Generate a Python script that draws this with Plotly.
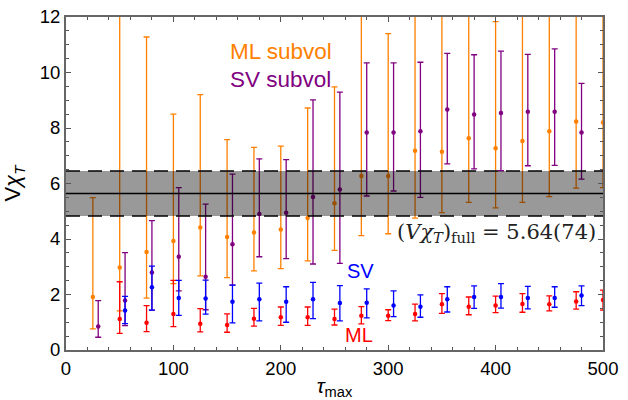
import plotly.graph_objects as go

# ---- data ----
ml_x = [50, 75, 100, 125, 150, 175, 200, 225, 250, 275, 300, 325, 350, 375, 400, 425, 450, 475, 500]
ml_y = [1.12, 0.98, 1.30, 0.95, 0.90, 1.13, 1.18, 1.18, 1.12, 1.23, 1.23, 1.30, 1.65, 1.56, 1.60, 1.66, 1.65, 1.75, 1.80]
ml_lo = [0.60, 0.66, 0.84, 0.65, 0.64, 0.86, 0.89, 0.89, 0.90, 0.94, 1.06, 1.05, 1.32, 1.27, 1.35, 1.36, 1.41, 1.47, 1.44]
ml_hi = [2.46, 1.60, 2.51, 1.49, 1.30, 1.50, 1.55, 1.55, 1.47, 1.56, 1.45, 1.65, 2.03, 1.91, 1.94, 2.03, 1.95, 2.10, 2.16]

sv_x = [55, 80, 105, 130, 155, 180, 205, 230, 255, 280, 305, 330, 355, 380, 405, 430, 455, 480]
sv_y = [1.42, 2.26, 1.87, 1.86, 1.74, 1.83, 1.74, 1.83, 1.69, 1.70, 1.60, 1.56, 1.83, 1.91, 1.91, 1.87, 1.87, 1.96]
sv_lo = [0.95, 1.44, 1.25, 1.29, 0.98, 1.05, 1.00, 1.13, 1.05, 1.16, 1.20, 1.18, 1.37, 1.50, 1.51, 1.48, 1.54, 1.60]
sv_hi = [1.93, 3.02, 2.51, 2.52, 2.34, 2.41, 2.28, 2.44, 2.32, 2.20, 2.13, 1.99, 2.28, 2.31, 2.39, 2.29, 2.28, 2.31]

mls_x = [25, 50, 75, 100, 125, 150, 175, 200, 225, 250, 275, 300, 325, 350, 375, 400, 425, 450, 475, 500]
mls_y = [1.91, 2.97, 3.53, 3.93, 4.41, 4.07, 4.23, 4.34, 4.76, 5.29, 6.27, 6.27, 7.18, 7.14, 7.63, 7.27, 7.53, 7.88, 8.23, 8.20]
mls_lo = [0.76, 1.41, 1.87, 2.39, 2.67, 2.61, 2.85, 2.93, 3.21, 3.59, 4.12, 4.19, 4.75, 4.95, 5.32, 5.12, 5.32, 5.53, 5.83, 5.85]
mls_hi = [5.49, 14.0, 11.28, 8.50, 9.20, 7.58, 7.30, 7.35, 8.72, 9.48, 14.0, 11.40, 14.0, 14.0, 14.0, 11.83, 14.0, 14.0, 14.0, 14.0]

svs_x = [30, 55, 80, 105, 130, 155, 180, 205, 230, 255, 280, 305, 330, 355, 380, 405, 430, 455, 480]
svs_y = [0.85, 1.78, 2.79, 3.36, 2.64, 3.81, 4.90, 4.95, 5.51, 5.78, 7.84, 7.84, 7.88, 8.67, 8.49, 8.54, 8.59, 8.59, 7.84]
svs_lo = [0.46, 0.88, 1.44, 2.13, 1.45, 2.34, 3.36, 3.29, 3.10, 3.12, 5.55, 5.73, 5.50, 6.71, 6.53, 6.46, 6.64, 6.65, 6.16]
svs_hi = [1.78, 3.51, 4.66, 5.85, 5.26, 6.34, 6.89, 6.86, 9.01, 9.29, 10.35, 10.35, 10.37, 10.69, 10.64, 10.77, 10.65, 10.85, 9.61]

full_val = 5.64
band_lo = 4.83
band_hi = 6.45
band_x = [0, 500]

x_ticks = [0, 100, 200, 300, 400, 500]
y_ticks = [0, 2, 4, 6, 8, 10, 12]

ORANGE = "#FF8000"
PURPLE = "#800080"
BLUE = "#0000FF"
RED = "#FF0000"

fig = go.Figure()


def add_series(x, y, lo, hi, color):
    fig.add_trace(go.Scatter(
        x=x, y=y, mode="markers",
        marker=dict(color=color, size=4.5),
        error_y=dict(type="data", symmetric=False,
                     array=[h - v for h, v in zip(hi, y)],
                     arrayminus=[v - l for v, l in zip(y, lo)],
                     color=color, thickness=1.3, width=3),
        showlegend=False, hoverinfo="skip"))


add_series(mls_x, mls_y, mls_lo, mls_hi, ORANGE)
add_series(svs_x, svs_y, svs_lo, svs_hi, PURPLE)
add_series(ml_x, ml_y, ml_lo, ml_hi, RED)
add_series(sv_x, sv_y, sv_lo, sv_hi, BLUE)

# translucent band on top of the points
fig.add_trace(go.Scatter(x=band_x, y=[band_lo, band_lo], mode="lines",
                         line=dict(color="black", width=1.5, dash="14px,8px"),
                         showlegend=False, hoverinfo="skip"))
fig.add_trace(go.Scatter(x=band_x, y=[band_hi, band_hi], mode="lines",
                         line=dict(color="black", width=1.5, dash="14px,8px"),
                         fill="tonexty", fillcolor="rgba(0,0,0,0.4)",
                         showlegend=False, hoverinfo="skip"))
fig.add_trace(go.Scatter(x=band_x, y=[full_val, full_val], mode="lines",
                         line=dict(color="black", width=1.5),
                         showlegend=False, hoverinfo="skip"))

sans = "Liberation Sans, Arial, Helvetica, sans-serif"
serif = "DejaVu Serif, Liberation Serif, serif"

fig.add_annotation(x=151, y=10.74, xref="x", yref="y", text="ML subvol", showarrow=False,
                   xanchor="left", font=dict(family=sans, size=22.5, color=ORANGE))
fig.add_annotation(x=151, y=9.73, xref="x", yref="y", text="SV subvol", showarrow=False,
                   xanchor="left", font=dict(family=sans, size=22.5, color=PURPLE))
fig.add_annotation(x=274, y=2.86, xref="x", yref="y", text="SV", showarrow=False,
                   font=dict(family=sans, size=20, color=BLUE))
fig.add_annotation(x=272.5, y=0.54, xref="x", yref="y", text="ML", showarrow=False,
                   font=dict(family=sans, size=20, color=RED))
fig.add_annotation(x=306, y=4.22, xref="x", yref="y", xanchor="left",
                   text="(<i>V</i><i>χ<sub>T</sub></i>)<sub>full</sub> = 5.64(74)",
                   showarrow=False, font=dict(family=serif, size=21, color="#222"))

axis_common = dict(
    showline=True, linecolor="#666666", linewidth=2, mirror="allticks",
    ticks="inside", tickcolor="#555555", ticklen=5, tickwidth=1,
    showgrid=False, zeroline=False, automargin=False,
    tickfont=dict(family=sans, size=18.5, color="black"),
)

fig.update_xaxes(range=[0, 500], tickvals=x_ticks, ticklabelstandoff=1,
                 minor=dict(dtick=20, ticks="inside", ticklen=3, tickcolor="#555555", showgrid=False),
                 title=dict(text="<i>τ</i><sub>max</sub>", font=dict(family=sans, size=21, color="black")),
                 **axis_common)
fig.update_yaxes(range=[0, 12], tickvals=y_ticks,
                 minor=dict(dtick=0.5, ticks="inside", ticklen=3, tickcolor="#555555", showgrid=False),
                 title=dict(text="V<i>χ</i><sub><i>T</i></sub>", font=dict(family=sans, size=22, color="black")),
                 **axis_common)

fig.update_layout(
    width=628, height=400,
    margin=dict(l=66, r=25, t=17, b=50),
    paper_bgcolor="white", plot_bgcolor="white",
)

fig.write_html("out.html")
